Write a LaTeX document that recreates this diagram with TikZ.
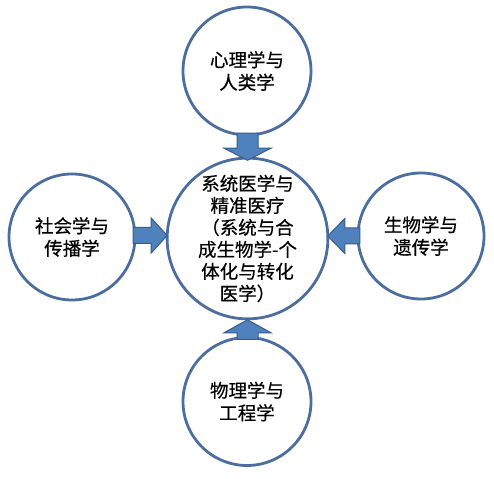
\documentclass[tikz,border=0pt]{standalone}
\usepackage{fontspec}
\newfontfamily\cjk[FakeBold=0.4]{Noto Sans CJK SC}
\usetikzlibrary{calc}
\definecolor{ringblue}{RGB}{76,109,160}
\definecolor{arrowfill}{RGB}{79,129,189}
\definecolor{arrowline}{RGB}{56,93,138}
\begin{document}
\begin{tikzpicture}[x=1pt,y=1pt,
  ring/.style={circle, draw=ringblue, line width=2.8pt, fill=white, inner sep=0pt,
    align=center, text=black, font=\cjk\fontsize{18.5pt}{22.5pt}\selectfont},
  blockarrow/.style={fill=arrowfill, draw=arrowline, line width=1pt, line join=miter}]
\useasboundingbox (0,0) rectangle (494,478);
\node[ring, minimum size=128pt] (top) at (247,407) {心理学与\\人类学};
\node[ring, minimum size=128pt] (bottom) at (247,76.5) {物理学与\\工程学};
\node[ring, minimum size=126pt] (left) at (72,241) {社会学与\\传播学};
\node[ring, minimum size=126pt] (right) at (421,242) {生物学与\\遗传学};
\node[ring, minimum size=160pt, font=\cjk\fontsize{18.5pt}{22pt}\selectfont] (center) at (247.5,239.5)
  {系统医学与\\精准医疗\\（系统与合\\成生物学-个\\体化与转化\\医学）};
% top arrow (down)
\draw[blockarrow, shift={($(center.north)+(0,-3.5)$)}, rotate=-90]
  (0,0) -- (-12,23.5) -- (-12,10.5) -- (-27,10.5) -- (-27,-10.5) -- (-12,-10.5) -- (-12,-23.5) -- cycle;
% bottom arrow (up)
\draw[blockarrow, shift={($(center.south)+(0,0.5)$)}, rotate=90]
  (0,0) -- (-13,23.5) -- (-13,10.5) -- (-19.5,10.5) -- (-19.5,-10.5) -- (-13,-10.5) -- (-13,-23.5) -- cycle;
% left arrow (right)
\draw[blockarrow, shift={($(center.west)+(1.5,3)$)}]
  (0,0) -- (-16,17.5) -- (-16,8) -- (-34,8) -- (-34,-8) -- (-16,-8) -- (-16,-17.5) -- cycle;
% right arrow (left)
\draw[blockarrow, shift={($(center.east)+(-1.5,2.5)$)}, rotate=180]
  (0,0) -- (-17,17.5) -- (-17,8) -- (-32,8) -- (-32,-8) -- (-17,-8) -- (-17,-17.5) -- cycle;
\end{tikzpicture}
\end{document}
